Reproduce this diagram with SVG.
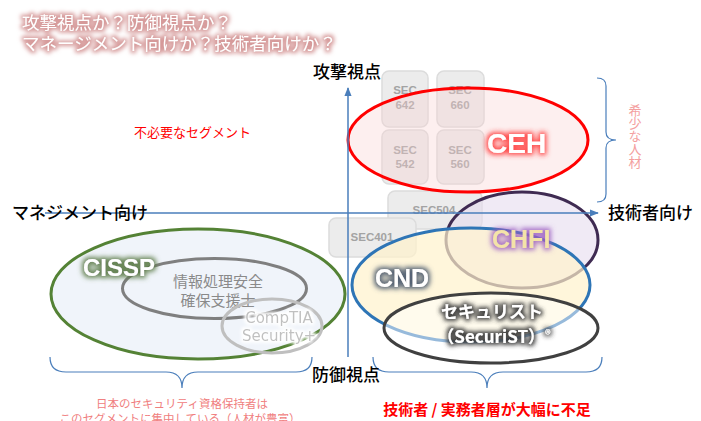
<svg xmlns="http://www.w3.org/2000/svg" width="701" height="421" viewBox="0 0 701 421">
<defs>
<style>
text{font-family:"Noto Sans CJK JP","Liberation Sans",sans-serif}
.ax{font-size:17px;fill:#000;font-weight:500}
.sec rect{fill:#ececec;stroke:#dcdcdc;stroke-width:1.5}
.sec text{font-size:11.5px;fill:#a3a3a3;font-weight:700;text-anchor:middle;font-family:"Liberation Sans","Noto Sans CJK JP",sans-serif}
.big{font-family:"Liberation Sans",sans-serif;font-weight:700}
.brace{fill:none;stroke:#4a7ebb;stroke-width:1.2}
.axis{stroke:#4a7ebb;stroke-width:1.5;fill:none}
</style>
<marker id="arr" viewBox="0 0 10 10" refX="9" refY="5" markerWidth="6" markerHeight="6" orient="auto"><path d="M0,1 L10,5 L0,9 Z" fill="#4a7ebb"/></marker>
<filter id="gPink" x="-10%" y="-50%" width="120%" height="200%"><feMorphology in="SourceAlpha" operator="dilate" radius="2" result="d"/><feGaussianBlur in="d" stdDeviation="2.2" result="b"/><feFlood flood-color="#d69a9a" flood-opacity="1"/><feComposite in2="b" operator="in" result="g"/><feMerge><feMergeNode in="g"/><feMergeNode in="SourceGraphic"/></feMerge></filter>
<filter id="gRed" x="-30%" y="-50%" width="160%" height="200%"><feMorphology in="SourceAlpha" operator="dilate" radius="2" result="d"/><feGaussianBlur in="d" stdDeviation="2.5" result="b"/><feFlood flood-color="#ff3030" flood-opacity="0.85"/><feComposite in2="b" operator="in" result="g"/><feMerge><feMergeNode in="g"/><feMergeNode in="SourceGraphic"/></feMerge></filter>
<filter id="gPur" x="-30%" y="-50%" width="160%" height="200%"><feMorphology in="SourceAlpha" operator="dilate" radius="2" result="d"/><feGaussianBlur in="d" stdDeviation="2.5" result="b"/><feFlood flood-color="#9a5cc0" flood-opacity="0.85"/><feComposite in2="b" operator="in" result="g"/><feMerge><feMergeNode in="g"/><feMergeNode in="SourceGraphic"/></feMerge></filter>
<filter id="gSlate" x="-30%" y="-50%" width="160%" height="200%"><feMorphology in="SourceAlpha" operator="dilate" radius="2" result="d"/><feGaussianBlur in="d" stdDeviation="2.5" result="b"/><feFlood flood-color="#44546a" flood-opacity="0.9"/><feComposite in2="b" operator="in" result="g"/><feMerge><feMergeNode in="g"/><feMergeNode in="SourceGraphic"/></feMerge></filter>
<filter id="gGreen" x="-30%" y="-50%" width="160%" height="200%"><feMorphology in="SourceAlpha" operator="dilate" radius="2" result="d"/><feGaussianBlur in="d" stdDeviation="2.5" result="b"/><feFlood flood-color="#5a7a45" flood-opacity="0.9"/><feComposite in2="b" operator="in" result="g"/><feMerge><feMergeNode in="g"/><feMergeNode in="SourceGraphic"/></feMerge></filter>
<filter id="gDark" x="-20%" y="-50%" width="140%" height="200%"><feMorphology in="SourceAlpha" operator="dilate" radius="1.5" result="d"/><feGaussianBlur in="d" stdDeviation="2" result="b"/><feFlood flood-color="#333" flood-opacity="0.9"/><feComposite in2="b" operator="in" result="g"/><feMerge><feMergeNode in="g"/><feMergeNode in="SourceGraphic"/></feMerge></filter>
<filter id="gWhite" x="-20%" y="-50%" width="140%" height="200%"><feMorphology in="SourceAlpha" operator="dilate" radius="1.5" result="d"/><feGaussianBlur in="d" stdDeviation="1.5" result="b"/><feFlood flood-color="#fff" flood-opacity="1"/><feComposite in2="b" operator="in" result="g"/><feMerge><feMergeNode in="g"/><feMergeNode in="SourceGraphic"/></feMerge></filter>
</defs>
<rect width="701" height="421" fill="#fff"/>

<g id="title" filter="url(#gPink)" fill="#fff" font-size="17.5">
<text x="22" y="29">攻撃視点か？防御視点か？</text>
<text x="22" y="50">マネージメント向けか？技術者向けか？</text>
</g>

<g id="sec-boxes" class="sec">
<g id="sec642"><rect x="382" y="71" width="46" height="56" rx="7"/><text x="405" y="94">SEC</text><text x="405" y="109">642</text></g>
<g id="sec660"><rect x="437" y="71" width="47" height="56" rx="7"/><text x="460" y="94">SEC</text><text x="460" y="109">660</text></g>
<g id="sec542"><rect x="382" y="130" width="46" height="54" rx="7"/><text x="405" y="154">SEC</text><text x="405" y="168">542</text></g>
<g id="sec560"><rect x="437" y="130" width="47" height="54" rx="7"/><text x="460" y="154">SEC</text><text x="460" y="168">560</text></g>
<g id="sec504"><rect x="388" y="191" width="94" height="38" rx="7"/><text x="434" y="214">SEC504</text></g>
<g id="sec401"><rect x="329" y="218" width="87" height="39" rx="7"/><text x="372" y="241">SEC401</text></g>
</g>

<g id="cissp">
<ellipse cx="198" cy="294" rx="147" ry="65" fill="#eef3f9" fill-opacity="0.9" stroke="#548235" stroke-width="3"/>
</g>
<g id="riss">
<ellipse cx="214.5" cy="288.5" rx="92" ry="30" fill="none" stroke="#7f7f7f" stroke-width="3"/>
<text x="218" y="287" font-size="15" fill="#8a8a8a" text-anchor="middle">情報処理安全</text>
<text x="218" y="306" font-size="15" fill="#8a8a8a" text-anchor="middle">確保支援士</text>
</g>
<g id="cissp-label">
<text class="big" x="83" y="276" font-size="24" fill="#fff" filter="url(#gGreen)">CISSP</text>
</g>
<g id="comptia">
<ellipse cx="272" cy="326" rx="50" ry="27" fill="none" stroke="#bfbfbf" stroke-width="3"/>
<g filter="url(#gWhite)" fill="#c0c0c0" font-size="15">
<text x="279" y="323" text-anchor="middle" style="font-family:'DejaVu Sans',sans-serif">CompTIA</text>
<text x="279" y="341" text-anchor="middle" style="font-family:'DejaVu Sans',sans-serif">Security+</text>
</g>
</g>

<g id="ceh">
<ellipse cx="468" cy="140" rx="120" ry="52" fill="#f8d0d0" fill-opacity="0.35" stroke="#ff0000" stroke-width="3"/>
<text class="big" x="487" y="153" font-size="28" fill="#fff" filter="url(#gRed)">CEH</text>
</g>
<g id="chfi">
<ellipse cx="522" cy="240" rx="76" ry="48" fill="#e6dcef" fill-opacity="0.6" stroke="#3f2b52" stroke-width="3"/>
</g>
<g id="cnd">
<ellipse cx="471" cy="285" rx="119" ry="57" fill="#fff2cc" fill-opacity="0.7" stroke="#2e75b6" stroke-width="3"/>
<text class="big" x="375" y="287" font-size="25" fill="#fff" filter="url(#gSlate)">CND</text>
</g>
<g id="chfi-label">
<text class="big" x="492" y="248" font-size="25" fill="#f4e3a8" filter="url(#gPur)">CHFI</text>
</g>
<g id="securist">
<ellipse cx="491" cy="328" rx="107" ry="35" fill="#ffffff" fill-opacity="0.5" stroke="#404040" stroke-width="3"/>
<g filter="url(#gDark)" fill="#fff" font-weight="700">
<text x="492" y="318" font-size="17" text-anchor="middle">セキュリスト</text>
<text x="494" y="343" font-size="17" text-anchor="middle">（SecuriST）<tspan font-size="11" dy="-4">®</tspan></text>
</g>
</g>

<g id="connectors">
<line class="axis" x1="45" y1="213" x2="598" y2="213" marker-end="url(#arr)"/>
<line class="axis" x1="348" y1="357" x2="348" y2="88" marker-end="url(#arr)"/>
<path class="brace" d="M597,78 Q606,78 606,86 L606,132 Q606,140 616,140 Q606,140 606,148 L606,194 Q606,202 597,202"/>
<path class="brace" d="M50,357 Q50,372 66,372 L166,372 Q182,372 182,388 Q182,372 198,372 L296,372 Q312,372 312,357"/>
<path class="brace" d="M373,357 Q373,372 389,372 L471,372 Q487,372 487,388 Q487,372 503,372 L586,372 Q602,372 602,357"/>
</g>

<g id="labels">
<text class="ax" x="313" y="78">攻撃視点</text>
<text class="ax" x="312" y="381">防御視点</text>
<text class="ax" x="12" y="219">マネジメント向け</text>
<text class="ax" x="608" y="219">技術者向け</text>
<text x="134" y="137" font-size="13" fill="#ff0000">不必要なセグメント</text>
<text x="635" y="104" font-size="13" fill="#f4a0a0" style="writing-mode:vertical-rl" text-anchor="start">希少な人材</text>
<text x="487" y="415" font-size="15" fill="#ff0000" font-weight="700" text-anchor="middle">技術者 / 実務者層が大幅に不足</text>
<text x="182" y="408" font-size="11.5" fill="#f08080" text-anchor="middle">日本のセキュリティ資格保持者は</text>
<text x="180" y="423" font-size="11.5" fill="#f08080" text-anchor="middle">このセグメントに集中している（人材が豊富）</text>
</g>
</svg>
